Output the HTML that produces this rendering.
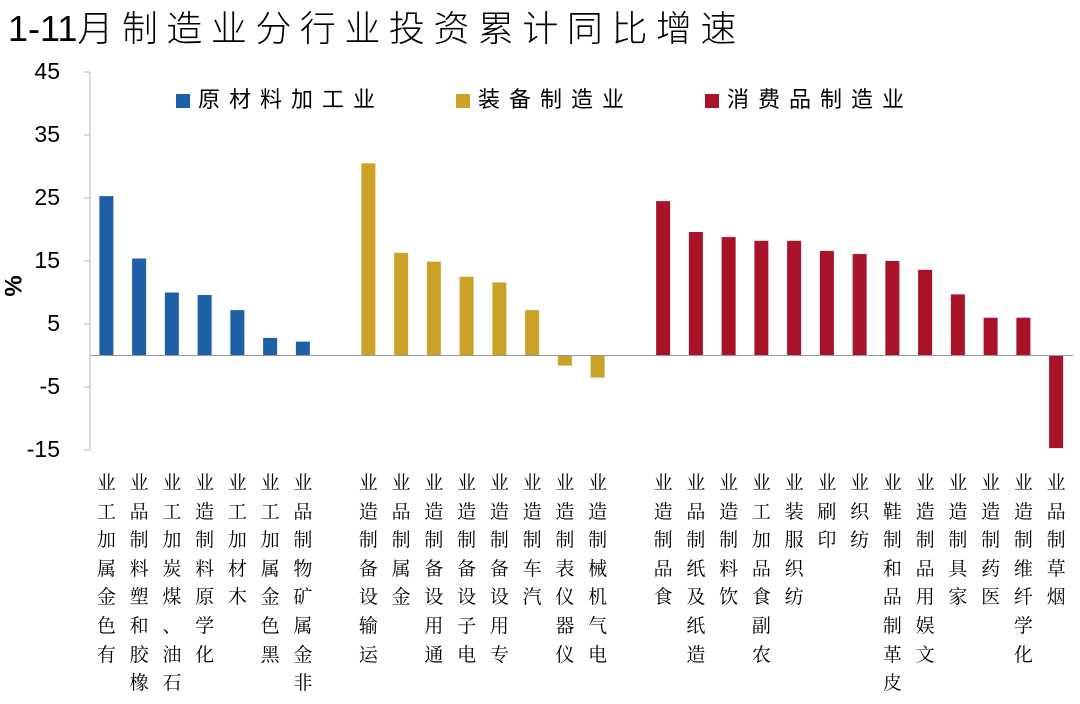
<!DOCTYPE html>
<html><head><meta charset="utf-8"><style>
body{margin:0;width:1080px;height:704px;background:#fff;overflow:hidden;font-family:"Liberation Sans","Noto Sans CJK SC",sans-serif}
#title{position:absolute;left:8px;top:0px;font-size:36px;letter-spacing:8.5px;color:#000;white-space:nowrap;font-weight:300}
#title b{font-weight:normal;letter-spacing:0}
.lbl{position:absolute;display:flex;flex-direction:column-reverse;justify-content:flex-end;width:22px;font-family:"Noto Serif CJK SC","Noto Sans CJK SC",serif;font-size:19px;line-height:28.6px;text-align:center;color:#000}
.yt{position:absolute;font-size:23px;width:60px;text-align:right;left:0}
.leg{position:absolute;font-size:22px;top:82px;white-space:nowrap;letter-spacing:9px}
.leg span{display:inline-block;width:14px;height:14px;margin-right:8px;vertical-align:-1px}
</style></head><body>
<div id="title"><b>1-11</b>月制造业分行业投资累计同比增速</div>
<div class="leg" style="left:176px"><span style="background:#1f5fa8"></span>原材料加工业</div>
<div class="leg" style="left:456px"><span style="background:#c9a227"></span>装备制造业</div>
<div class="leg" style="left:705px"><span style="background:#a8132a"></span>消费品制造业</div>
<div style="position:absolute;left:4px;top:272px;font-size:24px;font-weight:bold;transform:rotate(-90deg)">%</div>
<svg id="chart" width="1080" height="704" style="position:absolute;left:0;top:0"></svg>
<div id="labels"></div>
<script>
const categories=["有色金属加工业","橡胶和塑料制品业","石油、煤炭加工业","化学原料制造业","木材加工业","黑色金属加工业","非金属矿物制品业",null,"运输设备制造业","金属制品业","通用设备制造业","电子设备制造业","专用设备制造业","汽车制造业","仪器仪表制造业","电气机械制造业",null,"食品制造业","造纸及纸制品业","饮料制造业","农副食品加工业","纺织服装业","印刷业","纺织业","皮革制品和制鞋业","文娱用品制造业","家具制造业","医药制造业","化学纤维制造业","烟草制品业"];
const values=[25.3,15.4,10,9.6,7.2,2.8,2.2,null,30.5,16.3,14.9,12.5,11.6,7.2,-1.6,-3.5,null,24.5,19.6,18.8,18.2,18.2,16.6,16.1,15,13.6,9.7,6,6,-14.7];
const groups=[0,0,0,0,0,0,0,null,1,1,1,1,1,1,1,1,null,2,2,2,2,2,2,2,2,2,2,2,2,2];
const ticks=[45,35,25,15,5,-5,-15];
const colors=["#1f5fa8","#c9a227","#a8132a"];
const ns="http://www.w3.org/2000/svg";
const svg=document.getElementById('chart');
const x0=90,slot=32.75;
function y(v){return 355.5-v*6.3;}
function xc(i){return x0+slot*(i+0.5);}
ticks.forEach(t=>{
 const d=document.createElement('div');d.className='yt';d.style.top=(y(t)-14)+'px';d.textContent=t;
 
 
 document.body.appendChild(d);
 const l=document.createElementNS(ns,'line');l.setAttribute('x1',x0-6);l.setAttribute('x2',x0);l.setAttribute('y1',y(t));l.setAttribute('y2',y(t));l.setAttribute('stroke','#bbb');
 
 
 svg.appendChild(l);
});
const ax=document.createElementNS(ns,'line');ax.setAttribute('x1',x0);ax.setAttribute('x2',x0);ax.setAttribute('y1',y(45));ax.setAttribute('y2',y(-15));ax.setAttribute('stroke','#bbb');


svg.appendChild(ax);
values.forEach((v,i)=>{
 if(v===null)return;
 const r=document.createElementNS(ns,'rect');
 r.setAttribute('x',xc(i)-7);r.setAttribute('width',14);
 r.setAttribute('y',Math.min(y(v),y(0)));r.setAttribute('height',Math.abs(y(v)-y(0)));
 r.setAttribute('fill',colors[groups[i]]);
 
 
 svg.appendChild(r);
 const lb=document.createElement('div');lb.className='lbl';
 lb.style.left=(xc(i)-11)+'px';lb.style.top='468px';
 
 
 for(const c of categories[i]){const s=document.createElement('div');s.textContent=c;lb.appendChild(s);}
 document.getElementById('labels').appendChild(lb);
});
const z=document.createElementNS(ns,'line');z.setAttribute('x1',x0);z.setAttribute('x2',1073);z.setAttribute('y1',y(0));z.setAttribute('y2',y(0));z.setAttribute('stroke','#999');


svg.appendChild(z);
</script>
</body></html>
